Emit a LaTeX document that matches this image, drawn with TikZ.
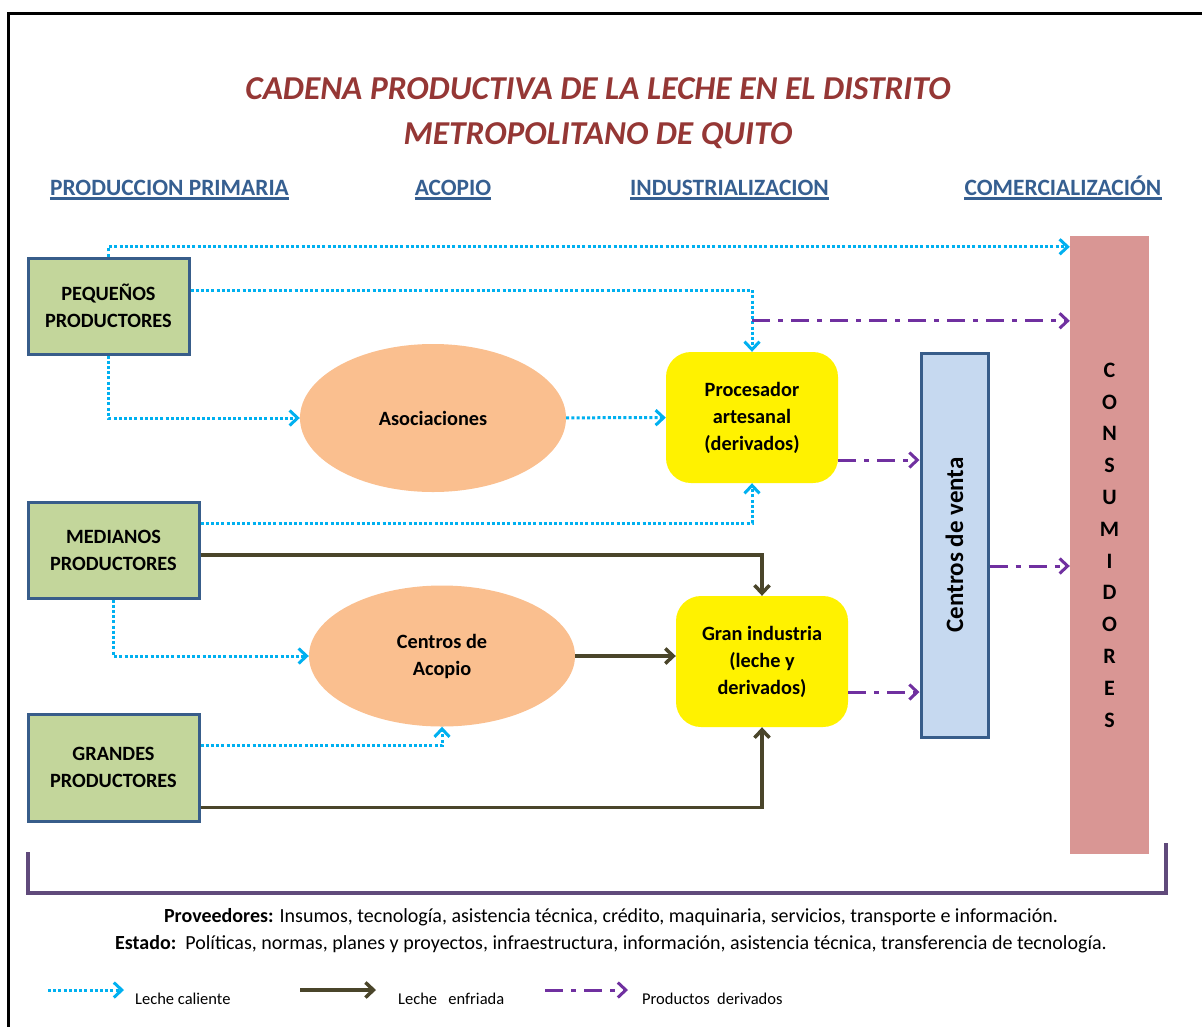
\documentclass[tikz,border=0pt]{standalone}
\usepackage{fontspec}
\setmainfont{Carlito}
\usepackage{tikz}
\usetikzlibrary{positioning,arrows.meta,shapes.geometric}
\definecolor{titred}{RGB}{149,55,53}
\definecolor{headblue}{RGB}{54,95,145}
\definecolor{edgeblue}{RGB}{56,93,138}
\definecolor{prodgreen}{RGB}{195,214,155}
\definecolor{ellorange}{RGB}{250,191,143}
\definecolor{ventablue}{RGB}{198,217,240}
\definecolor{consrose}{RGB}{217,150,148}
\definecolor{hotblue}{RGB}{0,176,240}
\definecolor{coldolive}{RGB}{74,69,42}
\definecolor{derivpurple}{RGB}{112,48,160}
\definecolor{brackpurple}{RGB}{96,74,123}

\begin{document}
\begin{tikzpicture}[x=1pt,y=-1pt, >={Straight Barb[length=8pt,width=15pt]},
  txt/.style={font=\fontsize{20.3}{27}\selectfont\bfseries,align=center},
  prod/.style={txt,draw=edgeblue,line width=3pt,fill=prodgreen,minimum width=171pt,minimum height=96pt},
  ell/.style={txt,ellipse,fill=ellorange,minimum width=266pt,minimum height=148pt},
  ind/.style={txt,rounded corners=25pt,fill=yellow,minimum width=172pt,minimum height=131pt},
  head/.style={font=\fontsize{23.4}{27}\selectfont\bfseries,text=headblue,anchor=south,inner xsep=0pt,
    inner ysep=2.5pt,text depth=0pt,append after command={(\tikzlastnode.south west)
    edge[draw=headblue,line width=2.5pt] (\tikzlastnode.south east)}},
  hot/.style={->,draw=hotblue,line width=3pt,dash pattern=on 3pt off 2.2pt},
  cold/.style={->,draw=coldolive,line width=3.5pt},
  deriv/.style={->,draw=derivpurple,line width=3pt,dash pattern=on 18pt off 8pt on 5pt off 8pt},
  foot/.style={font=\fontsize{20}{23}\selectfont,anchor=base},
  legtxt/.style={font=\fontsize{16.5}{19}\selectfont,inner sep=0pt}]
  \useasboundingbox (0,0) rectangle (1202,1026);
  \draw[line width=3pt] (8,1030) -- (8,13) -- (1205,13);
  % title and stages
  \node[font=\fontsize{33.4}{45}\selectfont\bfseries\itshape,text=titred,align=center] (title) at (598,113)
    {CADENA PRODUCTIVA DE LA LECHE EN EL DISTRITO\\METROPOLITANO DE QUITO};
  \node[head] (hprim) at (169.5,198.5) {PRODUCCION PRIMARIA};
  \node[head] (hacop) at (453,198.5) {ACOPIO};
  \node[head] (hind) at (729.5,198.5) {INDUSTRIALIZACION};
  \node[head] (hcom) at (1063,198.5) {COMERCIALIZACIÓN};
  % nodes
  \node[prod,minimum width=161pt] (peq) at (108.5,306) {PEQUEÑOS\\PRODUCTORES};
  \node[prod] (med) at (113.5,550) {MEDIANOS\\PRODUCTORES};
  \node[prod,minimum height=107pt] (gra) at (113.5,767.5) {GRANDES\\PRODUCTORES};
  \node[ell] (asoc) at (433,418) {Asociaciones};
  \node[ell,minimum height=141pt] (acop) at (442,656) {Centros de\\Acopio};
  \node[ind] (proc) at (752,417.5) {Procesador\\artesanal\\(derivados)};
  \node[ind] (gran) at (762,661.5) {Gran industria\\(leche y\\derivados)};
  \node[draw=edgeblue,line width=3pt,fill=ventablue,minimum width=67pt,minimum height=384pt] (venta) at (954.5,545) {};
  \node[font=\fontsize{25}{28}\selectfont\bfseries,rotate=90] (ventatxt) at (venta) {Centros de venta};
  \node[fill=consrose,minimum width=79pt,minimum height=618pt,font=\fontsize{22}{31.8}\selectfont\bfseries,align=center]
    (cons) at (1109.5,545) {C\\O\\N\\S\\U\\M\\I\\D\\O\\R\\E\\S};
  % leche caliente
  \draw[hot] (peq.north) |- ([yshift=-11pt]cons.north west);
  \draw[hot] ([yshift=16pt]peq.east) -| (proc.north);
  \draw[hot] (peq.south) |- (asoc.west);
  \draw[hot] (asoc) -- (proc);
  \draw[hot] ([yshift=27pt]med.east) -| (proc.south);
  \draw[hot] (med.south) |- (acop.west);
  \draw[hot] ([yshift=22pt]gra.east) -| (acop.south);
  % leche enfriada
  \draw[cold] ([yshift=-5pt]med.east) -| (gran.north);
  \draw[cold] (acop.east) -- (acop.east -| gran.west);
  \draw[cold] ([yshift=-40pt]gra.east) -| (gran.south);
  % productos derivados
  \coordinate (d1) at ([yshift=31pt]proc.north);
  \coordinate (d2) at ([yshift=-42.5pt]proc.east);
  \coordinate (d3) at ([yshift=-30.5pt]gran.east);
  \coordinate (d4) at ([yshift=-21pt]venta.east);
  \draw[deriv] (d1) -- (d1 -| cons.west);
  \draw[deriv] (d2) -- (d2 -| venta.west);
  \draw[deriv] (d3) -- (d3 -| venta.west);
  \draw[deriv] (d4) -- (d4 -| cons.west);
  % proveedores / estado
  \draw[draw=brackpurple,line width=4pt] (28,852) -- (28,893) -- (1166,893) -- (1166,843);
  \node[foot] (prov) at (611,922) {\textbf{Proveedores:} Insumos, tecnología, asistencia técnica, crédito, maquinaria, servicios, transporte e información.};
  \node[foot] (est) at (611,949) {\textbf{Estado:}\ \ Políticas, normas, planes y proyectos, infraestructura, información, asistencia técnica, transferencia de tecnología.};
  % legend
  \coordinate (l1a) at (48,990); \coordinate (l1b) at (124,990);
  \coordinate (l2a) at (300,990); \coordinate (l2b) at (376,990);
  \coordinate (l3a) at (545,990); \coordinate (l3b) at (628,990);
  \draw[hot] (l1a) -- (l1b);
  \draw[cold] (l2a) -- (l2b);
  \draw[deriv] (l3a) -- (l3b);
  \node[legtxt,anchor=base west] (l1t) at (135,1004) {Leche caliente};
  \node[legtxt,anchor=base west] (l2t) at (398,1004) {Leche\ \ \ enfriada};
  \node[legtxt,anchor=base west] (l3t) at (642,1004) {Productos\ \ derivados};
\end{tikzpicture}
\end{document}
